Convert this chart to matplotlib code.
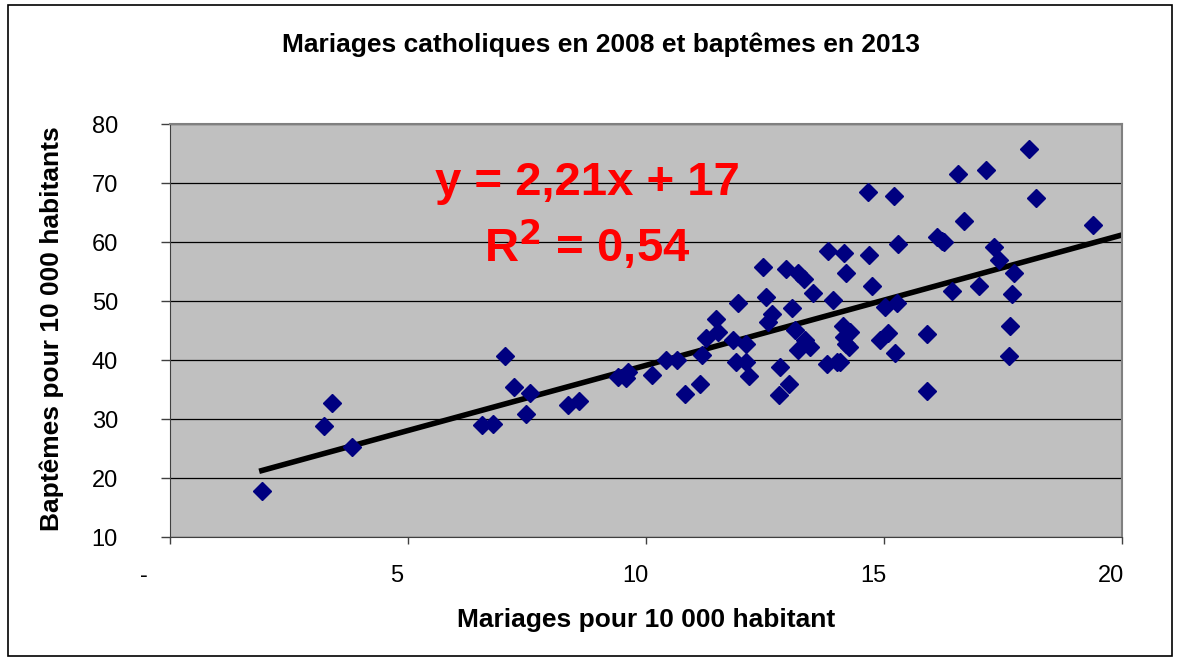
import matplotlib
matplotlib.use("Agg")
import matplotlib.pyplot as plt
from matplotlib.patches import Rectangle
from matplotlib.transforms import ScaledTranslation

plt.rcParams['font.family'] = ['Liberation Sans', 'DejaVu Sans']

# mariages pour 10 000 habitants (2008)
mariages = [1.93, 3.24, 3.40, 3.83, 7.04, 7.23, 7.56, 7.48, 6.55, 6.78,
            8.37, 8.60, 9.42, 9.59, 9.62, 10.12, 10.43, 10.66, 10.82, 11.13,
            11.17, 11.25, 11.48, 11.52, 11.94, 11.83, 12.11, 11.90, 12.11, 12.17,
            12.46, 12.53, 12.64, 12.57, 12.82, 12.80, 13.01, 12.94, 13.20, 13.32,
            13.50, 13.06, 13.13, 13.34, 13.20, 13.45, 13.83, 14.15, 14.21, 13.92,
            14.13, 14.16, 14.21, 13.80, 14.01, 14.08, 14.29, 14.27, 14.67, 15.20,
            15.30, 14.69, 14.74, 15.02, 15.27, 15.09, 14.92, 15.23, 15.91, 15.91,
            16.11, 16.21, 16.25, 16.55, 16.67, 16.42, 17.00, 17.14, 17.30, 17.42,
            17.73, 17.68, 17.65, 17.63, 18.05, 18.19, 19.38]
# baptêmes pour 10 000 habitants (2013)
baptemes = [17.8, 28.8, 32.7, 25.3, 40.6, 35.5, 34.4, 30.8, 29.0, 29.1,
            32.4, 33.1, 37.2, 37.0, 38.0, 37.5, 40.0, 40.0, 34.2, 36.0,
            40.8, 43.7, 46.9, 44.8, 49.6, 43.4, 42.7, 39.7, 39.7, 37.3,
            55.7, 50.6, 47.8, 46.5, 38.8, 34.1, 35.9, 55.4, 54.8, 53.8,
            51.4, 48.9, 45.1, 43.4, 41.7, 42.2, 58.4, 58.1, 54.8, 50.2,
            45.8, 43.9, 42.8, 39.4, 39.7, 39.6, 44.8, 42.2, 68.4, 67.8,
            59.6, 57.8, 52.6, 49.0, 49.6, 44.6, 43.4, 41.2, 44.4, 34.7,
            60.9, 60.2, 60.0, 71.6, 63.6, 51.7, 52.5, 72.2, 59.2, 57.0,
            54.7, 51.2, 45.8, 40.6, 75.8, 67.5, 62.9]

pente = 2.21
ordonnee = 17
xticks = [0, 5, 10, 15, 20]
xlabels = ["-", "5", "10", "15", "20"]
yticks = [10, 20, 30, 40, 50, 60, 70, 80]

fig = plt.figure(figsize=(11.77, 6.59), dpi=100)
ax = fig.add_axes([0.1444, 0.1851, 0.8089, 0.6267])

ax.set_facecolor('#C0C0C0')
ax.set_xlim(0, 20)
ax.set_ylim(10, 80)
ax.set_yticks(yticks)
ax.set_xticks(xticks)
ax.set_xticklabels(xlabels)
ax.grid(axis='y', color='black', linewidth=0.9)
ax.set_axisbelow(True)

for s in ['top', 'right']:
    ax.spines[s].set_color('#808080')
    ax.spines[s].set_linewidth(1.5)
ax.spines['left'].set_color('#404040')
ax.spines['bottom'].set_color('#404040')
ax.tick_params(axis='both', direction='out', width=1, color='#404040', labelsize=17)
ax.tick_params(axis='x', length=5, pad=15)
ax.tick_params(axis='y', length=6.5, pad=31)

# les étiquettes x sont un peu à gauche des graduations (style Excel)
for i, lab in enumerate(ax.get_xticklabels()):
    dx = -26 if i == 0 else -11
    lab.set_transform(lab.get_transform() + ScaledTranslation(dx / 100, 0, fig.dpi_scale_trans))

# droite de tendance
x_droite = [min(mariages), 20]
y_droite = [pente * x + ordonnee for x in x_droite]
ax.plot(x_droite, y_droite, color='black', linewidth=4, zorder=2)

ax.plot(mariages, baptemes, linestyle='none', marker='D', markersize=9,
        color='#000080', zorder=3)

ax.text(0.4386, 0.828, "y = 2,21x + 17", transform=ax.transAxes, color='red',
        fontsize=34, fontweight='bold', ha='center', va='baseline')
ax.text(0.4386, 0.666, "R$^{\\mathbf{2}}$ = 0,54", transform=ax.transAxes, color='red',
        fontsize=34, fontweight='bold', ha='center', va='baseline')

fig.text(0.511, 0.932, "Mariages catholiques en 2008 et baptêmes en 2013",
         fontsize=19, fontweight='bold', ha='center', va='center')
fig.text(0.549, 0.059, "Mariages pour 10 000 habitant",
         fontsize=19, fontweight='bold', ha='center', va='center')
fig.text(0.044, 0.502, "Baptêmes pour 10 000 habitants", rotation=90,
         fontsize=19, fontweight='bold', ha='center', va='center')

fig.patches.append(Rectangle((0.007, 0.004), 0.989, 0.988, transform=fig.transFigure,
                             fill=False, edgecolor='black', linewidth=1.2))

fig.savefig("out.png", dpi=100)
